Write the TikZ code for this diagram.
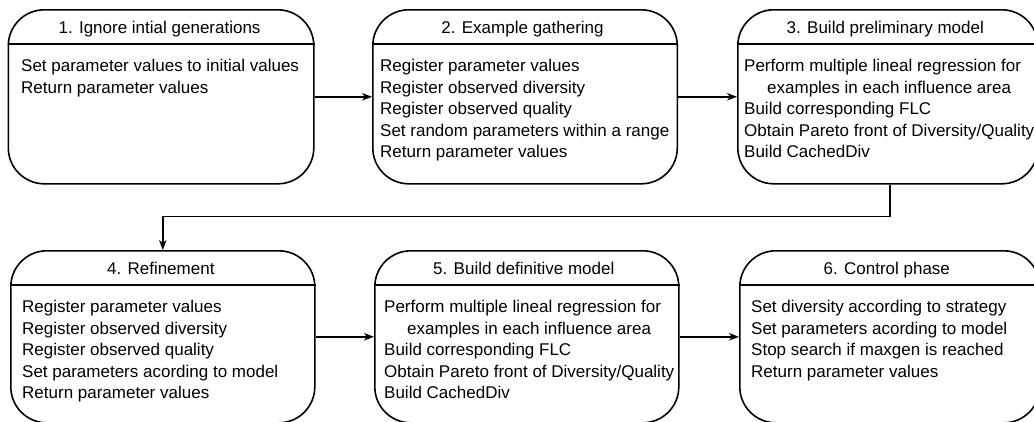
\documentclass[tikz,border=0pt]{standalone}
\usepackage{fontspec}
\setmainfont{Liberation Sans}
\usetikzlibrary{arrows.meta}

\begin{document}
\begin{tikzpicture}[x=1pt,y=-1pt,
  stage/.style={draw, line width=1.6pt, rounded corners=36pt, inner sep=0pt,
    minimum height=#1, anchor=north west},
  stage/.default=174pt,
  heading/.style={font=\fontsize{17}{21.5}\selectfont, anchor=base, inner sep=0pt},
  steps/.style={font=\fontsize{17}{21.5}\selectfont, align=left, anchor=north west, inner sep=0pt},
  flow/.style={line width=1.4pt, -{Stealth[length=10pt,width=7.5pt,inset=3pt]}}
]
\useasboundingbox (0,0) rectangle (1034,421);
\clip (0,0) rectangle (1034,421);

% upper row
\node[stage, minimum width=305.5pt] (s1) at (7.5,9) {};
\node[stage, minimum width=304.5pt] (s2) at (372,9) {};
\node[stage, minimum width=300pt]   (s3) at (737,9) {};
% lower row
\node[stage=172pt, minimum width=304pt] (s4) at (10,250) {};
\node[stage=172pt, minimum width=304pt] (s5) at (374,250) {};
\node[stage=172pt, minimum width=300pt] (s6) at (739,250) {};

% header separators
\foreach \s in {s1,s2,s3,s4,s5,s6}
  \draw[line width=1.6pt] ([yshift=-35pt]\s.north west) -- ([yshift=-35pt]\s.north east);

% headings
\node[heading] (t1) at ([xshift=-1.5pt,yshift=-24pt]s1.north) {1. Ignore intial generations};
\node[heading] (t2) at ([xshift=-2.5pt,yshift=-24pt]s2.north) {2. Example gathering};
\node[heading] (t3) at ([xshift=-2.5pt,yshift=-24pt]s3.north) {3. Build preliminary model};
\node[heading] (t4) at ([xshift=-2pt,yshift=-24pt]s4.north) {4. Refinement};
\node[heading] (t5) at ([xshift=-3pt,yshift=-24pt]s5.north) {5. Build definitive model};
\node[heading] (t6) at ([xshift=-3pt,yshift=-24pt]s6.north) {6. Control phase};

% step lists
\node[steps] (b1) at ([xshift=13.5pt,yshift=-50pt]s1.north west)
  {Set parameter values to initial values\\Return parameter values};
\node[steps] (b2) at ([xshift=8pt,yshift=-50pt]s2.north west)
  {Register parameter values\\Register observed diversity\\Register observed quality\\
   Set random parameters within a range\\Return parameter values};
\node[steps] (b3) at ([xshift=7pt,yshift=-50pt]s3.north west)
  {Perform multiple lineal regression for\\\hspace*{23pt}examples in each influence area\\
   Build corresponding FLC\\Obtain Pareto front of Diversity/Quality\\Build CachedDiv};
\node[steps] (b4) at ([xshift=12pt,yshift=-50pt]s4.north west)
  {Register parameter values\\Register observed diversity\\Register observed quality\\
   Set parameters acording to model\\Return parameter values};
\node[steps] (b5) at ([xshift=10pt,yshift=-50pt]s5.north west)
  {Perform multiple lineal regression for\\\hspace*{23pt}examples in each influence area\\
   Build corresponding FLC\\Obtain Pareto front of Diversity/Quality\\Build CachedDiv};
\node[steps] (b6) at ([xshift=12pt,yshift=-50pt]s6.north west)
  {Set diversity according to strategy\\Set parameters acording to model\\
   Stop search if maxgen is reached\\Return parameter values};

% connectors
\draw[flow] (s1.east) -- (s2.west);
\draw[flow] (s2.east) -- (s3.west);
\draw[flow] ([xshift=2pt]s3.south) -- ++(0,32) -| (s4.north);
\draw[flow] (s4.east) -- (s5.west);
\draw[flow] (s5.east) -- (s6.west);
\end{tikzpicture}
\end{document}
